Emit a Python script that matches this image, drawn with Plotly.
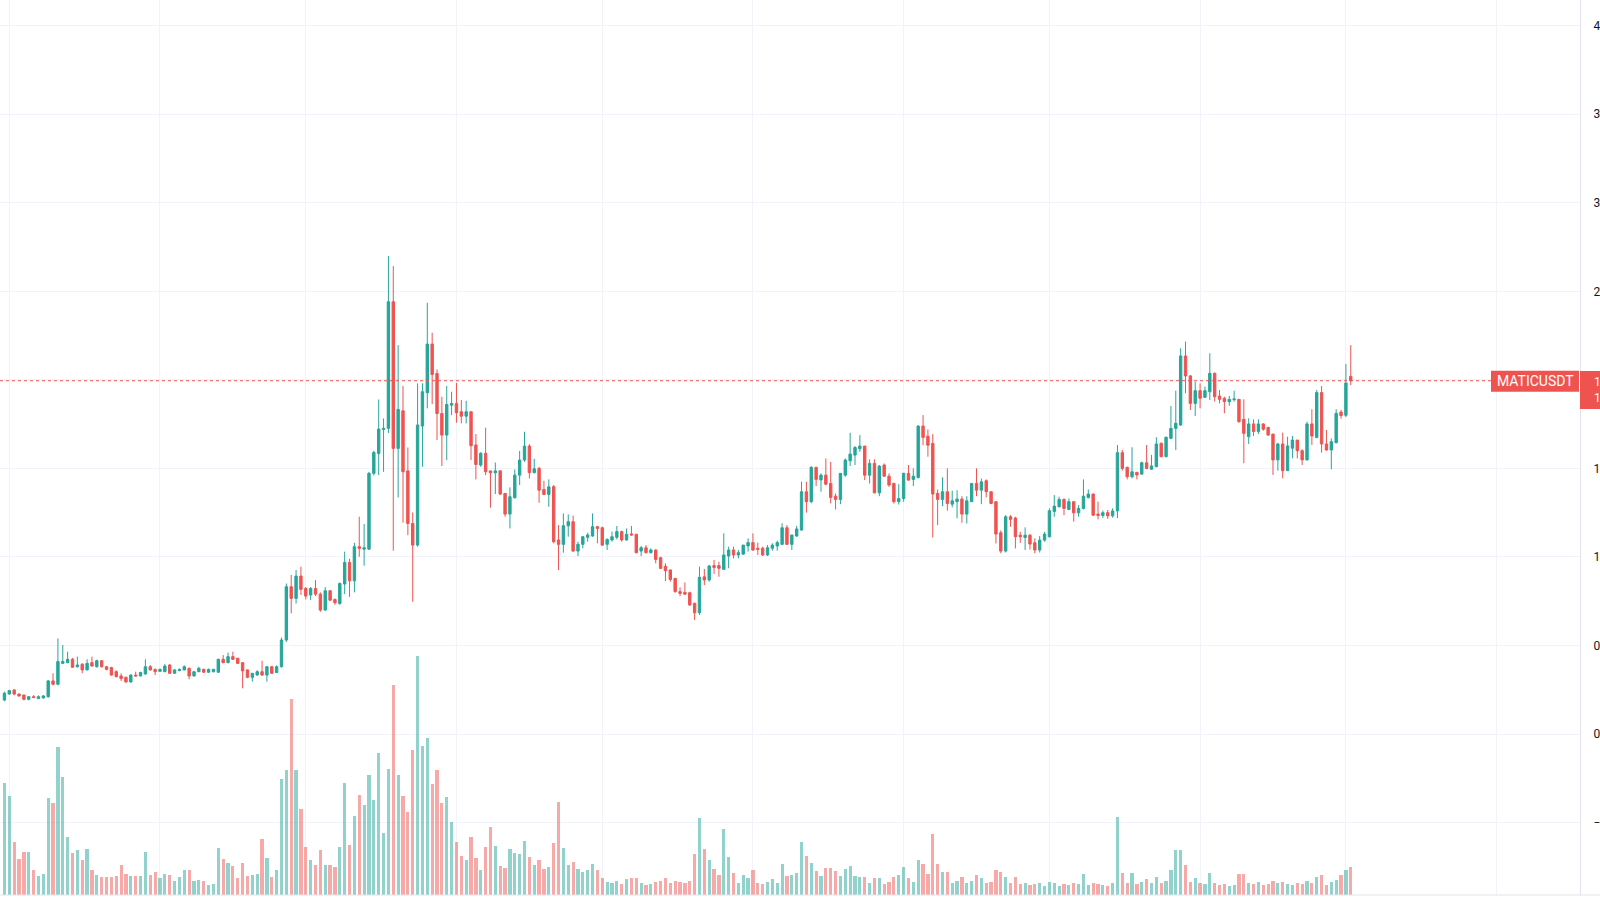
import pandas as pd
import plotly.graph_objects as go

symbol = "MATICUSDT"
start_date = "2021-02-28"

opens = [0.192,0.226,0.249,0.226,0.220,0.196,0.211,0.200,0.204,0.211,0.300,0.281,0.399,0.403,0.422,0.380,0.394,0.362,0.403,0.380,
0.414,0.380,0.375,0.352,0.328,0.320,0.294,0.333,0.328,0.339,0.380,0.365,0.354,0.352,0.390,0.343,0.358,0.362,0.371,0.328,
0.352,0.365,0.349,0.352,0.349,0.422,0.403,0.437,0.428,0.403,0.362,0.320,0.333,0.352,0.333,0.380,0.347,0.380,0.531,0.832,
0.766,0.892,0.822,0.785,0.822,0.790,0.700,0.809,0.760,0.737,0.847,0.969,0.865,1.058,1.044,1.044,1.472,1.584,1.720,1.726,
2.441,1.613,1.825,1.486,1.189,1.067,1.739,1.927,2.202,2.036,1.810,1.688,1.857,1.867,1.820,1.795,1.820,1.632,1.519,1.585,
1.486,1.475,1.486,1.359,1.242,1.334,1.462,1.547,1.626,1.476,1.500,1.381,1.353,1.397,1.096,1.071,1.176,1.199,1.033,1.071,
1.111,1.118,1.171,1.165,1.071,1.096,1.111,1.143,1.096,1.130,1.128,1.033,1.052,1.024,1.039,0.996,0.948,0.926,0.879,0.804,
0.800,0.798,0.738,0.685,0.888,0.870,0.951,0.951,0.930,1.005,1.039,1.011,1.016,1.062,1.081,1.049,1.049,1.011,1.049,1.062,
1.071,1.165,1.071,1.118,1.152,1.368,1.312,1.506,1.435,1.462,1.415,1.343,1.325,1.462,1.543,1.575,1.611,1.626,1.462,1.528,
1.362,1.519,1.456,1.415,1.312,1.330,1.472,1.438,1.449,1.739,1.682,1.641,1.359,1.325,1.368,1.298,1.312,1.327,1.242,1.312,
1.415,1.377,1.430,1.368,1.312,1.137,1.033,1.227,1.220,1.123,1.110,1.123,1.080,1.039,1.095,1.114,1.257,1.283,1.325,1.268,
1.312,1.249,1.274,1.336,1.355,1.242,1.234,1.250,1.232,1.260,1.589,1.506,1.453,1.478,1.468,1.532,1.495,1.510,1.642,1.566,
1.670,1.726,1.745,2.135,2.022,1.867,1.939,1.901,1.933,2.037,1.909,1.896,1.877,1.888,1.890,1.777,1.679,1.751,1.708,1.751,
1.732,1.694,1.548,1.638,1.487,1.614,1.660,1.600,1.548,1.751,1.675,1.928,1.638,1.604,1.645,1.818,1.800,2.020]

highs = [0.239,0.250,0.252,0.228,0.222,0.215,0.220,0.218,0.220,0.305,0.343,0.540,0.503,0.465,0.430,0.437,0.400,0.422,0.437,0.420,
0.418,0.385,0.380,0.360,0.343,0.325,0.337,0.352,0.352,0.422,0.390,0.370,0.370,0.395,0.394,0.366,0.370,0.388,0.375,0.356,
0.380,0.370,0.370,0.368,0.425,0.446,0.460,0.465,0.430,0.405,0.365,0.345,0.360,0.414,0.385,0.385,0.388,0.545,0.850,0.898,
0.926,0.945,0.830,0.830,0.869,0.800,0.830,0.812,0.765,0.856,1.030,0.990,1.080,1.227,1.186,1.480,1.600,1.889,1.782,2.699,
2.642,2.196,1.966,1.618,1.251,1.980,1.980,2.435,2.266,2.059,1.904,1.966,1.933,1.983,1.886,1.882,1.820,1.694,1.592,1.730,
1.486,1.533,1.490,1.360,1.393,1.494,1.599,1.707,1.637,1.554,1.509,1.430,1.438,1.406,1.180,1.246,1.240,1.233,1.086,1.118,
1.137,1.246,1.175,1.171,1.105,1.143,1.175,1.148,1.161,1.175,1.130,1.062,1.067,1.049,1.043,1.001,0.964,0.930,0.879,0.828,
0.856,0.804,0.742,0.945,0.932,0.954,0.983,0.973,1.133,1.058,1.058,1.039,1.067,1.105,1.133,1.081,1.058,1.067,1.077,1.092,
1.190,1.180,1.124,1.175,1.425,1.425,1.513,1.509,1.472,1.556,1.537,1.359,1.472,1.556,1.701,1.626,1.688,1.626,1.551,1.551,
1.519,1.528,1.472,1.419,1.411,1.475,1.519,1.500,1.744,1.801,1.720,1.694,1.381,1.449,1.500,1.374,1.377,1.343,1.343,1.415,
1.500,1.443,1.438,1.372,1.312,1.150,1.236,1.236,1.227,1.142,1.167,1.129,1.105,1.118,1.142,1.274,1.349,1.340,1.330,1.330,
1.312,1.293,1.438,1.381,1.359,1.312,1.262,1.265,1.275,1.632,1.604,1.510,1.619,1.479,1.538,1.632,1.576,1.676,1.646,1.679,
1.852,1.939,2.178,2.216,2.027,1.990,1.980,1.962,2.150,2.041,1.943,1.905,1.909,1.939,1.890,1.890,1.783,1.777,1.777,1.755,
1.732,1.694,1.645,1.702,1.679,1.683,1.660,1.608,1.764,1.834,1.943,1.965,1.717,1.670,1.834,1.830,2.089,2.196]

lows = [0.185,0.222,0.218,0.210,0.190,0.190,0.203,0.198,0.200,0.205,0.275,0.275,0.395,0.400,0.375,0.375,0.343,0.360,0.380,0.375,
0.375,0.360,0.330,0.320,0.300,0.290,0.290,0.325,0.325,0.335,0.358,0.333,0.350,0.350,0.340,0.340,0.355,0.360,0.309,0.325,
0.350,0.345,0.345,0.348,0.345,0.400,0.400,0.418,0.395,0.258,0.315,0.296,0.330,0.330,0.296,0.340,0.345,0.375,0.520,0.681,
0.737,0.785,0.760,0.756,0.780,0.690,0.695,0.750,0.730,0.730,0.790,0.775,0.800,1.001,0.950,1.040,1.460,1.462,1.481,1.700,
1.035,1.336,1.193,1.123,0.747,1.058,1.509,1.839,1.863,1.660,1.513,1.547,1.801,1.758,1.754,1.754,1.547,1.438,1.509,1.462,
1.278,1.355,1.349,1.227,1.161,1.330,1.406,1.537,1.443,1.472,1.306,1.349,1.283,1.077,0.926,1.024,1.114,1.030,1.005,1.049,
1.086,1.114,1.077,1.062,1.039,1.086,1.099,1.086,1.092,1.120,1.020,1.005,1.020,1.020,0.964,0.932,0.864,0.860,0.798,0.779,
0.785,0.723,0.644,0.672,0.841,0.860,0.904,0.888,0.926,0.936,0.992,0.992,1.011,1.030,1.035,1.011,1.005,1.005,1.035,1.035,
1.067,1.067,1.039,1.114,1.148,1.250,1.303,1.400,1.368,1.405,1.302,1.268,1.298,1.453,1.513,1.519,1.594,1.434,1.415,1.359,
1.343,1.453,1.396,1.302,1.296,1.312,1.430,1.400,1.443,1.631,1.566,1.110,1.180,1.287,1.261,1.280,1.218,1.193,1.189,1.312,
1.343,1.298,1.336,1.298,1.076,1.020,1.025,1.170,1.048,1.080,1.039,1.042,1.020,1.025,1.086,1.110,1.227,1.280,1.236,1.264,
1.199,1.227,1.268,1.330,1.231,1.212,1.220,1.215,1.222,1.220,1.487,1.438,1.444,1.438,1.463,1.495,1.491,1.506,1.563,1.563,
1.664,1.604,1.740,1.924,1.830,1.796,1.839,1.900,1.886,1.877,1.867,1.811,1.853,1.877,1.758,1.529,1.638,1.683,1.694,1.713,
1.683,1.463,1.487,1.444,1.487,1.557,1.557,1.519,1.544,1.632,1.670,1.589,1.600,1.495,1.642,1.780,1.790,1.970]

closes = [0.230,0.245,0.226,0.215,0.196,0.211,0.206,0.211,0.215,0.300,0.281,0.409,0.409,0.422,0.377,0.390,0.362,0.399,0.384,0.414,
0.380,0.365,0.333,0.324,0.313,0.294,0.333,0.328,0.347,0.380,0.362,0.352,0.365,0.384,0.343,0.362,0.365,0.380,0.328,0.352,
0.371,0.349,0.365,0.365,0.422,0.403,0.437,0.422,0.399,0.356,0.320,0.343,0.352,0.333,0.380,0.343,0.380,0.531,0.832,0.766,
0.892,0.817,0.779,0.822,0.790,0.700,0.809,0.756,0.741,0.850,0.969,0.865,1.058,1.048,1.052,1.472,1.590,1.722,1.726,2.441,
1.613,1.833,1.481,1.189,1.067,1.745,1.933,2.202,2.030,1.810,1.688,1.861,1.867,1.814,1.795,1.820,1.628,1.522,1.585,1.481,
1.475,1.486,1.355,1.242,1.340,1.462,1.547,1.626,1.476,1.498,1.377,1.353,1.396,1.086,1.071,1.176,1.199,1.033,1.071,1.114,
1.124,1.171,1.161,1.067,1.099,1.114,1.143,1.096,1.128,1.124,1.024,1.052,1.024,1.039,0.986,0.935,0.922,0.873,0.804,0.794,
0.790,0.729,0.685,0.885,0.870,0.949,0.941,0.936,1.011,1.039,1.011,1.024,1.067,1.081,1.039,1.043,1.011,1.052,1.067,1.081,
1.165,1.071,1.124,1.158,1.368,1.312,1.506,1.438,1.462,1.411,1.336,1.325,1.472,1.547,1.581,1.618,1.626,1.462,1.528,1.362,
1.513,1.456,1.406,1.312,1.330,1.472,1.434,1.456,1.739,1.675,1.631,1.355,1.325,1.368,1.302,1.317,1.327,1.242,1.317,1.415,
1.377,1.424,1.368,1.302,1.129,1.033,1.227,1.212,1.114,1.114,1.123,1.073,1.039,1.095,1.129,1.261,1.287,1.325,1.274,1.312,
1.249,1.274,1.343,1.355,1.236,1.234,1.250,1.232,1.260,1.589,1.500,1.453,1.481,1.463,1.532,1.500,1.514,1.638,1.566,1.676,
1.726,1.755,2.135,2.022,1.867,1.939,1.896,1.939,2.037,1.905,1.890,1.877,1.890,1.892,1.764,1.698,1.751,1.708,1.751,1.721,
1.689,1.548,1.638,1.487,1.627,1.660,1.600,1.548,1.751,1.683,1.928,1.638,1.604,1.651,1.811,1.798,1.982,1.995]

volumes = [112,99,53,36,43,43,25,19,21,97,92,148,118,58,42,45,35,46,25,20,
18,18,18,19,30,21,19,19,19,43,20,23,17,21,20,14,18,25,25,14,
15,14,10,11,47,36,32,29,17,32,19,20,21,56,37,18,25,116,125,196,
125,86,48,35,30,45,30,30,28,48,112,50,79,100,90,120,95,142,62,126,
210,120,99,83,145,239,149,157,111,125,92,98,73,53,39,35,58,37,25,48,
68,49,29,27,46,42,41,54,38,30,35,26,28,52,93,47,30,33,26,23,
25,31,25,17,13,12,14,11,16,17,17,12,10,11,13,14,17,12,14,13,
12,14,41,77,46,35,26,20,66,38,22,12,20,17,25,12,11,13,16,12,
31,19,20,22,53,39,32,24,19,27,27,24,19,26,29,19,18,18,12,17,
17,11,13,18,20,28,17,13,35,31,21,61,31,23,23,12,14,18,12,14,
20,17,12,13,25,23,18,12,18,11,12,10,11,12,9,13,12,9,11,10,
12,11,21,10,12,11,10,9,12,78,22,12,22,11,13,16,12,18,12,14,
25,45,45,30,13,17,12,11,22,12,10,11,9,10,21,21,12,11,13,10,
11,14,12,13,11,10,12,11,14,12,18,20,10,13,15,20,25,28]

countdown = "13:52:10"

UP = "#26a69a"
DOWN = "#ef5350"
GRID = "#f0f3fa"
BORDER = "#e0e3eb"
FONT = "Roboto, 'Liberation Sans', sans-serif"

dates = pd.date_range(start_date, periods=len(closes), freq="D")
vol_colors = ["rgba(38,166,154,0.5)" if c >= o else "rgba(239,83,80,0.5)" for o, c in zip(opens, closes)]
last = closes[-1]
last_up = closes[-1] >= opens[-1]
label_color = UP if last_up else DOWN

fig = go.Figure()
fig.add_trace(go.Bar(
    x=dates, y=volumes, yaxis="y2", marker=dict(color=vol_colors, line=dict(width=0)),
    width=0.66 * 86400000, hoverinfo="skip", showlegend=False,
))
fig.add_trace(go.Candlestick(
    x=dates, open=opens, high=highs, low=lows, close=closes, name=symbol,
    increasing=dict(line=dict(color=UP, width=1), fillcolor=UP),
    decreasing=dict(line=dict(color=DOWN, width=1), fillcolor=DOWN),
    whiskerwidth=0, showlegend=False,
))

PW = 1580.0  # plot width in px
fig.update_layout(
    width=1600, height=900,
    margin=dict(l=0, r=20, t=0, b=5, autoexpand=False),
    paper_bgcolor="white", plot_bgcolor="white",
    font=dict(family=FONT, size=12, color="#131722"),
    showlegend=False, bargap=0,
    xaxis=dict(
        type="date", range=["2021-02-27 02:00", "2022-01-18 04:00"],
        showgrid=True, gridcolor=GRID, gridwidth=1,
        tick0="2021-03-01", dtick="M1", showticklabels=False, ticks="",
        rangeslider=dict(visible=False), zeroline=False,
        showline=False, automargin=False,
    ),
    yaxis=dict(
        side="right", range=[-0.909, 4.145], tick0=0, dtick=0.5, tickformat=".2f",
        showgrid=True, gridcolor=GRID, gridwidth=1, zeroline=False,
        showline=True, linecolor=BORDER, linewidth=1, ticks="",
        ticklabelstandoff=10, tickfont=dict(size=12, color="#131722"),
        automargin=False,
    ),
    yaxis2=dict(overlaying="y", range=[0, 895], visible=False, fixedrange=True,
                automargin=False),
)

shapes = [
    # bottom border across full width
    dict(type="line", xref="paper", yref="paper", x0=0, x1=1600 / PW, y0=0, y1=0,
         line=dict(color=BORDER, width=1)),
    # last-price dotted line
    dict(type="line", xref="paper", yref="y", x0=0, x1=1491 / PW, y0=last, y1=last,
         line=dict(color=label_color, width=1, dash="dot")),
    # symbol label box
    dict(type="rect", xref="paper", yref="y", ysizemode="pixel", yanchor=last,
         x0=1491 / PW, x1=1579 / PW, y0=-11, y1=10,
         fillcolor=label_color, line=dict(width=0)),
]
fig.update_layout(shapes=shapes)

# price box on the axis (annotation so it sits above the axis tick labels)
fig.add_annotation(
    xref="paper", yref="y", x=1.0, y=last, yshift=-9,
    text=" ", showarrow=False, xanchor="left", yanchor="middle",
    width=40, height=38, bgcolor=label_color, borderpad=0, borderwidth=0,
)
fig.add_annotation(
    xref="paper", yref="y", x=1535 / PW, y=last, yshift=0,
    text=symbol, showarrow=False, xanchor="center", yanchor="middle",
    font=dict(color="white", size=14, family=FONT),
)
fig.add_annotation(
    xref="paper", yref="y", x=1592 / PW, y=last, yshift=-9,
    text=f"{last:.4f}<br>{countdown}", showarrow=False, xanchor="left", yanchor="middle",
    align="left",
    font=dict(color="white", size=12, family=FONT),
)

fig.write_html("out.html")
